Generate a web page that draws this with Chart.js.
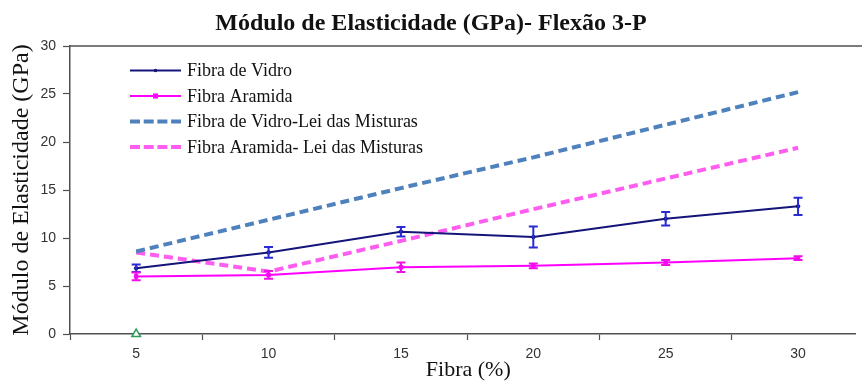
<!DOCTYPE html>
<html>
<head>
<meta charset="utf-8">
<script src="https://cdn.jsdelivr.net/npm/chart.js@4.4.1/dist/chart.umd.min.js"></script>
<style>
  html, body { margin: 0; padding: 0; background: #ffffff; overflow: hidden; }
  #wrap { width: 862px; height: 381px; }
</style>
</head>
<body>
<div id="wrap"><canvas id="c" width="862" height="381"></canvas></div>
<script>
// Fibre content (%) on the x axis
const fibra = [5, 10, 15, 20, 25, 30];

// Measured flexural modulus (GPa) with standard deviation
const vidro = [6.85, 8.5, 10.65, 10.1, 12.0, 13.3];
const vidroErr = [0.4, 0.55, 0.5, 1.1, 0.7, 0.9];
const aramida = [6.0, 6.15, 6.95, 7.1, 7.45, 7.9];
const aramidaErr = [0.4, 0.4, 0.5, 0.25, 0.25, 0.2];

// Rule-of-mixtures predictions (GPa)
const vidroLei = [8.6, 11.9, 15.2, 18.4, 21.8, 25.2];
const aramidaLei = [8.5, 6.5, 9.7, 13.0, 16.2, 19.4];

// Lone reference marker at 5 %
const marcador = [{ x: 5, y: 0 }];

// Axis ticks
const yTicks = [0, 5, 10, 15, 20, 25, 30];
const xTickMarks = fibra.map(v => v - 2.5);

const pts = (xs, ys) => xs.map((x, i) => ({ x: x, y: ys[i] }));

const AXIS = '#505050';

// Vertical error bars with caps, placed through the chart scales
const errorBars = {
  id: 'errorBars',
  afterDatasetsDraw(chart) {
    const ctx = chart.ctx;
    const xs = chart.scales.x, ys = chart.scales.y;
    chart.data.datasets.forEach((ds, di) => {
      if (!ds.errors || !chart.isDatasetVisible(di)) return;
      ctx.save();
      ctx.strokeStyle = ds.errorColor;
      ctx.lineWidth = 2;
      ds.data.forEach((p, i) => {
        const e = ds.errors[i];
        const px = xs.getPixelForValue(p.x);
        const top = ys.getPixelForValue(p.y + e);
        const bot = ys.getPixelForValue(p.y - e);
        const cap = 4.5;
        ctx.beginPath();
        ctx.moveTo(px, top); ctx.lineTo(px, bot);
        ctx.moveTo(px - cap, top); ctx.lineTo(px + cap, top);
        ctx.moveTo(px - cap, bot); ctx.lineTo(px + cap, bot);
        ctx.stroke();
      });
      ctx.restore();
    });
  }
};

// Frame line along the top of the plot area
const topFrame = {
  id: 'topFrame',
  beforeDatasetsDraw(chart) {
    const { ctx, chartArea } = chart;
    ctx.save();
    ctx.strokeStyle = AXIS;
    ctx.lineWidth = 1.5;
    ctx.beginPath();
    ctx.moveTo(chartArea.left, chartArea.top);
    ctx.lineTo(chart.width, chartArea.top);
    ctx.stroke();
    ctx.restore();
  }
};

// Legend boxed inside the upper-left of the plot
const innerLegend = {
  id: 'innerLegend',
  afterDraw(chart) {
    const ctx = chart.ctx;
    const x0 = 130, x1 = 181, tx = 187;
    let y = 70.5;
    const step = 25.5;
    ctx.save();
    ctx.font = '18px "Liberation Serif", "Times New Roman", serif';
    ctx.textBaseline = 'middle';
    chart.data.datasets.forEach(ds => {
      if (ds.inLegend === false) return;
      ctx.strokeStyle = ds.borderColor;
      ctx.lineWidth = ds.borderDash && ds.borderDash.length ? 4 : 2;
      ctx.setLineDash(ds.borderDash && ds.borderDash.length ? [10, 3.7] : []);
      ctx.beginPath();
      ctx.moveTo(x0, y); ctx.lineTo(x1, y);
      ctx.stroke();
      ctx.setLineDash([]);
      if (ds.pointRadius > 0) {
        const mx = (x0 + x1) / 2;
        ctx.fillStyle = ds.pointBackgroundColor;
        if (ds.pointStyle === 'rect') {
          ctx.fillRect(mx - 2.5, y - 2.5, 5, 5);
        } else {
          ctx.beginPath();
          ctx.arc(mx, y, 1.8, 0, Math.PI * 2);
          ctx.fill();
        }
      }
      ctx.fillStyle = '#111111';
      ctx.fillText(ds.label, tx, y + 1);
      y += step;
    });
    ctx.restore();
  }
};

new Chart(document.getElementById('c'), {
  type: 'line',
  data: {
    datasets: [
      {
        label: 'Fibra de Vidro',
        data: pts(fibra, vidro),
        errors: vidroErr,
        errorColor: '#2b2bd6',
        borderColor: '#14147a',
        borderWidth: 2,
        pointRadius: 1.8,
        pointBorderWidth: 1,
        pointStyle: 'circle',
        pointBackgroundColor: '#14147a',
        pointBorderColor: '#14147a',
        tension: 0,
        order: 1
      },
      {
        label: 'Fibra Aramida',
        data: pts(fibra, aramida),
        errors: aramidaErr,
        errorColor: '#ee10e6',
        borderColor: '#ff00ff',
        borderWidth: 2,
        pointRadius: 2.5,
        pointBorderWidth: 1,
        pointStyle: 'rect',
        pointBackgroundColor: '#ff00ff',
        pointBorderColor: '#ff00ff',
        tension: 0,
        order: 2
      },
      {
        label: 'Fibra de Vidro-Lei das Misturas',
        data: pts(fibra, vidroLei),
        borderColor: '#4f81bd',
        borderWidth: 4,
        borderDash: [9, 5],
        pointRadius: 0,
        tension: 0,
        order: 3
      },
      {
        label: 'Fibra Aramida- Lei das Misturas',
        data: pts(fibra, aramidaLei),
        borderColor: '#ff5cf0',
        borderWidth: 4,
        borderDash: [9, 5],
        pointRadius: 0,
        tension: 0,
        order: 3
      },
      {
        label: 'marcador',
        inLegend: false,
        data: marcador,
        showLine: false,
        pointStyle: 'triangle',
        pointRadius: 5,
        pointBorderWidth: 1.5,
        pointBorderColor: '#2e9e5e',
        pointBackgroundColor: '#ffffff',
        clip: false,
        order: 0
      }
    ]
  },
  options: {
    responsive: false,
    animation: false,
    devicePixelRatio: 1,
    layout: { padding: 0 },
    plugins: {
      legend: { display: false },
      tooltip: { enabled: false },
      title: {
        display: true,
        text: 'Módulo de Elasticidade (GPa)- Flexão 3-P',
        color: '#111111',
        font: { family: '"Liberation Serif", "Times New Roman", serif', size: 24, weight: 'bold', lineHeight: 1.2 },
        padding: { top: 9, bottom: 8.2 }
      }
    },
    scales: {
      x: {
        type: 'linear',
        min: 2.5,
        max: 32.17,
        afterBuildTicks: s => {
          const vals = [...new Set([...xTickMarks, ...fibra])].sort((a, b) => a - b);
          s.ticks = vals.map(v => ({ value: v }));
        },
        afterFit: s => { s.height = 47; },
        border: { color: AXIS, width: 1.5 },
        grid: {
          drawOnChartArea: false,
          drawTicks: true,
          tickLength: 6,
          tickWidth: 1.2,
          tickColor: c => (c.tick && fibra.includes(c.tick.value)) ? 'rgba(0,0,0,0)' : AXIS
        },
        ticks: {
          autoSkip: false,
          maxRotation: 0,
          padding: 6,
          color: '#333333',
          font: { family: '"Liberation Sans", Arial, sans-serif', size: 14 },
          callback: v => fibra.includes(v) ? String(v) : ''
        },
        title: {
          display: true,
          text: '\u00a0\u00a0Fibra (%)',
          color: '#111111',
          font: { family: '"Liberation Serif", "Times New Roman", serif', size: 22, lineHeight: 1.0 },
          padding: { top: 0, bottom: 0 }
        }
      },
      y: {
        min: 0,
        max: 30,
        afterBuildTicks: s => { s.ticks = yTicks.map(v => ({ value: v })); },
        afterFit: s => { s.width = 70; },
        border: { color: AXIS, width: 1.5 },
        grid: {
          drawOnChartArea: false,
          drawTicks: true,
          tickLength: 7,
          tickWidth: 1.2,
          tickColor: AXIS
        },
        ticks: {
          padding: 7,
          color: '#333333',
          font: { family: '"Liberation Sans", Arial, sans-serif', size: 14 }
        },
        title: {
          display: true,
          text: 'Módulo de Elasticidade (GPa)',
          color: '#111111',
          font: { family: '"Liberation Serif", "Times New Roman", serif', size: 24, lineHeight: 1.2 },
          padding: { top: 7, bottom: 0 }
        }
      }
    }
  },
  plugins: [errorBars, topFrame, innerLegend]
});
</script>
</body>
</html>
